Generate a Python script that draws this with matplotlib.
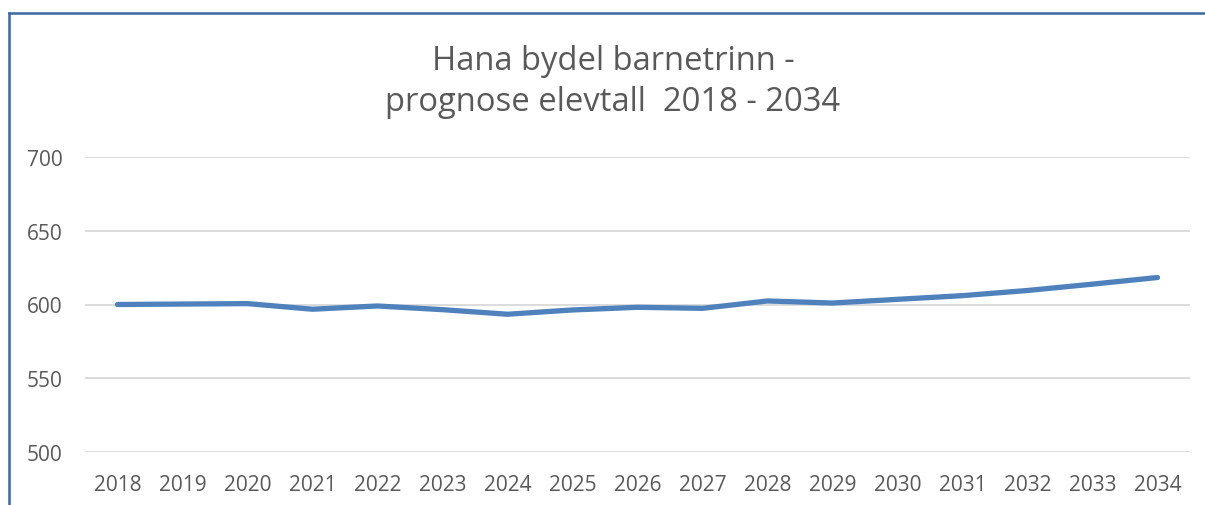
import matplotlib.pyplot as plt
from matplotlib.lines import Line2D

plt.rcParams['font.family'] = ['Open Sans', 'DejaVu Sans']

# Data
years = [str(y) for y in range(2018, 2035)]
elevtall = [600.0, 600.3, 600.6, 596.8, 599.0, 596.5, 593.4, 596.3, 598.1, 597.4,
            602.4, 601.0, 603.5, 606.0, 609.5, 613.8, 618.3]
y_ticks = [500, 550, 600, 650, 700]

text_color = '#595959'

fig = plt.figure(figsize=(12.05, 5.06), dpi=100)
ax = fig.add_axes([85 / 1205, 1 - 453 / 506, (1190 - 85) / 1205, (453 - 158) / 506])

x = list(range(len(years)))
ax.plot(x, elevtall, color='#4f81bd', linewidth=3.8, solid_capstyle='round',
        solid_joinstyle='round', zorder=3)

ax.set_xlim(-0.5, len(years) - 0.5)
ax.set_ylim(500, 700)
ax.set_yticks(y_ticks)
ax.set_xticks(x)
ax.set_xticklabels(years)
ax.grid(axis='y', color='#d9d9d9', linewidth=1.3)
ax.set_axisbelow(True)
for s in ax.spines.values():
    s.set_visible(False)
ax.tick_params(axis='both', length=0, labelsize=15, labelcolor=text_color)
ax.tick_params(axis='y', pad=16)
ax.tick_params(axis='x', pad=16)

fig.text(613 / 1205, 1 - 62 / 506, 'Hana bydel barnetrinn -', ha='center', va='center',
         fontsize=23.6, color=text_color)
fig.text(613 / 1205, 1 - 103 / 506, 'prognose elevtall  2018 - 2034', ha='center', va='center',
         fontsize=23.6, color=text_color)

# chart frame (only left and top edges are visible in the crop)
border = '#3c68a3'
fig.add_artist(Line2D([9 / 1205, 9 / 1205], [0, 1 - 14 / 506], color=border, linewidth=1.8,
                      transform=fig.transFigure))
fig.add_artist(Line2D([9 / 1205, 1], [1 - 14 / 506, 1 - 14 / 506], color=border, linewidth=1.8,
                      transform=fig.transFigure))

fig.savefig('out.png', dpi=100)
